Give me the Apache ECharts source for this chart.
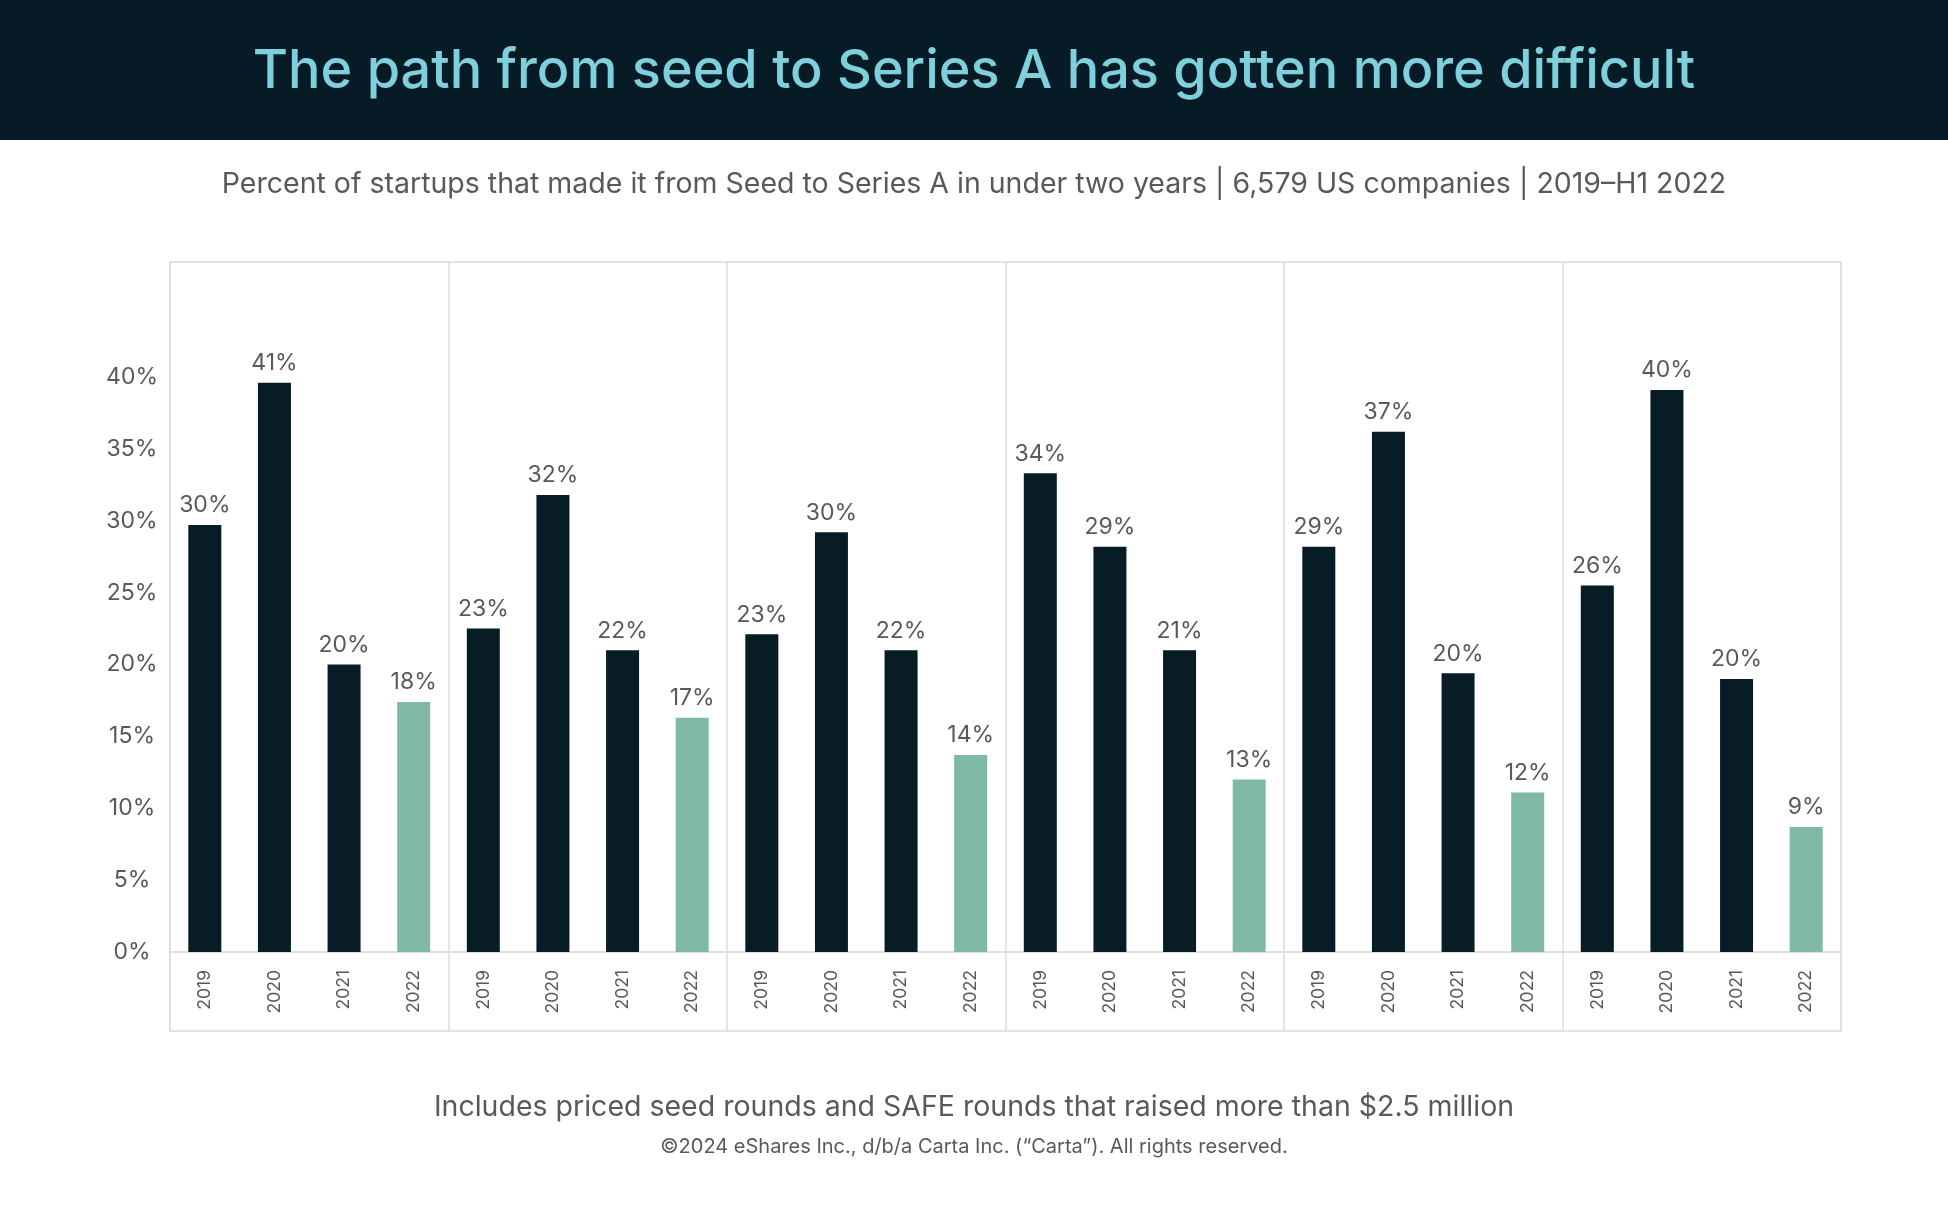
<!DOCTYPE html>
<html>
<head>
<meta charset="utf-8">
<title>Seed to Series A</title>
<script src="https://cdn.jsdelivr.net/npm/echarts@6/dist/echarts.min.js"></script>
<style>
    html, body { margin: 0; padding: 0; background: #fff; }
    #chart { width: 1948px; height: 1225px; }
</style>
</head>
<body>
<div id="chart"></div>
<script>
    // years inside each of the six groups
    var years = ['2019', '2020', '2021', '2022'];
    // bar heights as drawn (percent), one row per group
    var barValues = [
        [29.7, 39.6, 20.0, 17.4],
        [22.5, 31.8, 21.0, 16.3],
        [22.1, 29.2, 21.0, 13.7],
        [33.3, 28.2, 21.0, 12.0],
        [28.2, 36.2, 19.4, 11.1],
        [25.5, 39.1, 19.0, 8.7]
    ];
    // the rounded numbers printed above the bars
    var labelValues = [
        [30, 41, 20, 18],
        [23, 32, 22, 17],
        [23, 30, 22, 14],
        [34, 29, 21, 13],
        [29, 37, 20, 12],
        [26, 40, 20, 9]
    ];
    var yTicks = [0, 5, 10, 15, 20, 25, 30, 35, 40];

    var titleText = 'The path from seed to Series A has gotten more difficult';
    var subText = 'Percent of startups that made it from Seed to Series A in under two years | 6,579 US companies | 2019\u2013H1 2022';
    var noteText = 'Includes priced seed rounds and SAFE rounds that raised more than $2.5 million';
    var copyText = '\u00a92024 eShares Inc., d/b/a Carta Inc. (\u201cCarta\u201d). All rights reserved.';

    var FONT = 'Inter, "Noto Sans", sans-serif';
    var DARK = '#071c25';
    var TEAL = '#7fb9a6';
    var GREY = '#58595b';
    var LINE = '#dcdcdf';

    var cats = [];
    var vals = [];
    for (var g = 0; g < barValues.length; g++) {
        for (var k = 0; k < years.length; k++) {
            cats.push(years[k]);
            vals.push(barValues[g][k]);
        }
    }

    var groupSplit = function (index) {
        return index % years.length === 0;
    };

    var myChart = echarts.init(document.getElementById('chart'), null, { renderer: 'canvas' });

    var option = {
        backgroundColor: '#ffffff',
        animation: false,
        textStyle: { fontFamily: FONT },
        graphic: [
            {
                type: 'rect',
                shape: { x: 0, y: 0, width: 1948, height: 140 },
                style: { fill: '#071b26' },
                z: -1
            },
            {
                type: 'text',
                style: {
                    x: 974, y: 72, text: titleText, fill: '#7fd0dd',
                    font: '500 54px ' + FONT, textAlign: 'center', textVerticalAlign: 'middle'
                }
            },
            {
                type: 'text',
                style: {
                    x: 974, y: 184, text: subText, fill: GREY,
                    font: '28.5px ' + FONT, textAlign: 'center', textVerticalAlign: 'middle'
                }
            },
            {
                type: 'text',
                style: {
                    x: 974, y: 1107, text: noteText, fill: GREY,
                    font: '28.5px ' + FONT, textAlign: 'center', textVerticalAlign: 'middle'
                }
            },
            {
                type: 'text',
                style: {
                    x: 974, y: 1147, text: copyText, fill: GREY,
                    font: '20px ' + FONT, textAlign: 'center', textVerticalAlign: 'middle'
                }
            }
        ],
        grid: [
            { left: 170, right: 107, top: 262, height: 690, show: true, borderColor: LINE, borderWidth: 1.5, backgroundColor: 'transparent' },
            { left: 170, right: 107, top: 952, height: 79, show: true, borderColor: LINE, borderWidth: 1.5, backgroundColor: 'transparent' }
        ],
        xAxis: [
            {
                type: 'category',
                gridIndex: 0,
                data: cats,
                axisLine: { show: false },
                axisTick: { show: false },
                axisLabel: {
                    interval: 0, rotate: 90, margin: 18,
                    fontSize: 17.5, color: GREY, fontFamily: FONT
                },
                splitLine: { show: true, interval: groupSplit, lineStyle: { color: LINE, width: 1.5 } }
            },
            {
                type: 'category',
                gridIndex: 1,
                data: cats,
                axisLine: { show: false },
                axisTick: { show: false },
                axisLabel: { show: false },
                splitLine: { show: true, interval: groupSplit, lineStyle: { color: LINE, width: 1.5 } }
            }
        ],
        yAxis: [
            {
                type: 'value',
                gridIndex: 0,
                min: 0,
                max: 48,
                interval: 5,
                axisLine: { show: false },
                axisTick: { show: false },
                splitLine: { show: false },
                axisLabel: {
                    margin: 38, align: 'center', fontSize: 23, color: GREY, fontFamily: FONT,
                    formatter: function (v) {
                        return yTicks.indexOf(v) >= 0 ? v + '%' : '';
                    }
                }
            },
            { type: 'value', gridIndex: 1, show: false, min: 0, max: 1 }
        ],
        series: [{
            type: 'bar',
            xAxisIndex: 0,
            yAxisIndex: 0,
            data: vals,
            barWidth: 33,
            itemStyle: {
                color: function (p) {
                    return years[p.dataIndex % years.length] === '2022' ? TEAL : DARK;
                }
            },
            label: {
                show: true,
                position: 'top',
                distance: 8,
                fontSize: 23,
                color: GREY,
                fontFamily: FONT,
                formatter: function (p) {
                    var g = Math.floor(p.dataIndex / years.length);
                    return labelValues[g][p.dataIndex % years.length] + '%';
                }
            }
        }]
    };

    myChart.setOption(option);
</script>
</body>
</html>
